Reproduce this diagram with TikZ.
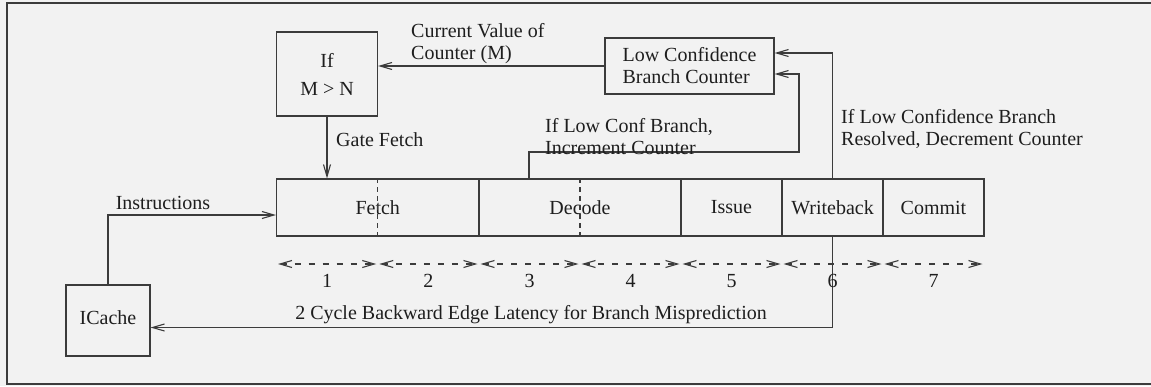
\documentclass[tikz,border=0pt]{standalone}
\usepackage{fontspec}
\setmainfont{Liberation Serif}
\usetikzlibrary{arrows.meta}
\definecolor{paper}{HTML}{F2F2F2}
\definecolor{ink}{HTML}{3C3C3C}
\definecolor{txt}{HTML}{1E1E1E}
\tikzset{
  every node/.style={font=\fontsize{20}{22}\selectfont, text=txt},
  box/.style={draw=ink, line width=1.1pt, inner sep=0pt, align=center},
  lbl/.style={anchor=west, align=left, inner sep=0pt},
  wire/.style={draw=ink, line width=1.1pt},
  arr/.style={wire, -{Straight Barb[length=12pt,width=7pt]}},
  span/.style={wire, dash pattern=on 6pt off 8pt,
    {Straight Barb[length=12pt,width=7pt]}-{Straight Barb[length=12pt,width=7pt]},
    shorten >=1.5pt, shorten <=1.5pt},
  divider/.style={wire, dash pattern=on 5pt off 4pt}
}
\begin{document}
\begin{tikzpicture}[x=1pt, y=-1pt]
  \useasboundingbox (0,0) rectangle (1151,386);
  \fill[paper] (0,0) rectangle (1151,386);
  \draw[ink, line width=1.1pt] (7,3) rectangle (1175,384);

  % control blocks
  \node[box, minimum width=101pt, minimum height=84pt] (ifbox) at (327,74) {If\\[6pt]M > N};
  \node[box, minimum width=169pt, minimum height=56pt, align=left] (lcbc) at (689.5,66)
    {Low Confidence\\Branch Counter};
  \node[box, minimum width=84pt, minimum height=71pt] (icache) at (108,320.5)
    {\raisebox{5pt}{ICache}};

  % pipeline stages
  \node[box, minimum width=202.5pt, minimum height=57pt] (fetch)  at (377.75,207.5) {Fetch};
  \node[box, minimum width=202pt,   minimum height=57pt] (decode) at (580,207.5)    {Decode};
  \node[box, minimum width=101pt,   minimum height=57pt] (issue)  at (731.5,207.5)  {Issue};
  \node[box, minimum width=101pt,   minimum height=57pt] (wb)     at (832.5,207.5)  {Writeback};
  \node[box, minimum width=101pt,   minimum height=57pt] (commit) at (933.5,207.5)  {Commit};

  % cycle split inside two-cycle stages
  \draw[divider] (fetch.north) -- (fetch.south);
  \draw[divider] (decode.north) -- (decode.south);

  % counter value to fetch gate
  \draw[arr] (lcbc.west) -- (lcbc.west -| ifbox.east);
  \node[lbl] (cvlbl) at (411,44) {Current Value of\\Counter (M)};

  \draw[arr] (ifbox.south) -- (ifbox.south |- fetch.north);
  \node[lbl] (gflbl) at (336,140) {Gate Fetch};

  % increment path from decode
  \coordinate (incfoot) at (529,179);
  \coordinate (incbend) at (799,152);
  \coordinate (incin) at (799,74);
  \draw[arr] (incfoot) |- (incbend) |- (lcbc.east |- incin);
  \node[lbl] (inclbl) at (545,137) {If Low Conf Branch,\\Increment Counter};

  % decrement path from writeback
  \coordinate (decin) at (0,53);
  \draw[arr] (wb.north) |- (lcbc.east |- decin);
  \node[lbl] (declbl) at (841,129) {If Low Confidence Branch\\Resolved, Decrement Counter};

  % instruction supply
  \coordinate (insin) at (0,215);
  \draw[arr] (icache.north) |- (fetch.west |- insin);
  \node (inslbl) at (163,203) {Instructions};

  % misprediction redirect
  \coordinate (backy) at (0,327.5);
  \draw[arr] (wb.south) |- (icache.east |- backy);
  \node (backlbl) at (531,315) {2 Cycle Backward Edge Latency for Branch Misprediction};

  % cycle ruler
  \foreach \i/\x in {0/276.5,1/377.75,2/479,3/580,4/681,5/782,6/883,7/984}
    \coordinate (c\i) at (\x,264);
  \foreach \a/\b in {0/1,1/2,2/3,3/4,4/5,5/6,6/7}
    \draw[span] (c\a) -- (c\b);
  \foreach \i/\x in {1/327,2/428.25,3/529.5,4/630.5,5/731.5,6/832.5,7/933.5}
    \node (num\i) at (\x,281) {\i};
\end{tikzpicture}
\end{document}
